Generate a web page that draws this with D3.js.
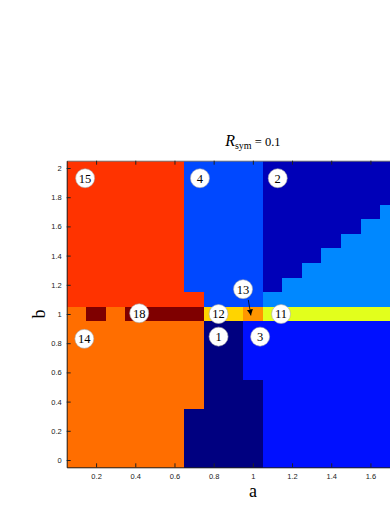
<!DOCTYPE html>
<html><head><meta charset="utf-8">
<script src="https://cdn.jsdelivr.net/npm/d3@7"></script>
<style>html,body{margin:0;padding:0;background:#fff;overflow:hidden}</style>
</head><body>
<svg id="chart" width="390" height="505"></svg>
<script>
// Cell centres
const aValues = [0.1,0.2,0.3,0.4,0.5,0.6,0.7,0.8,0.9,1.0,1.1,1.2,1.3,1.4,1.5,1.6,1.7,1.8,1.9];
const bValues = [2.0,1.9,1.8,1.7,1.6,1.5,1.4,1.3,1.2,1.1,1.0,0.9,0.8,0.7,0.6,0.5,0.4,0.3,0.2,0.1,0.0];
// Region code per cell, one string per b row (top to bottom), one char per a column
const regionRows = [
  "RRRRRRBBBBDDDDDDDDD",
  "RRRRRRBBBBDDDDDDDDL",
  "RRRRRRBBBBDDDDDDDLL",
  "RRRRRRBBBBDDDDDDLLL",
  "RRRRRRBBBBDDDDDLLLL",
  "RRRRRRBBBBDDDDLLLLL",
  "RRRRRRBBBBDDDLLLLLL",
  "RRRRRRBBBBDDLLLLLLL",
  "RRRRRRBBBBDLLLLLLLL",
  "RRRRRRRBBBLLLLLLLLL",
  "OKOKKKKGGPYYYYYYYYY",
  "OOOOOOONNUUUUUUUUUU",
  "OOOOOOONNUUUUUUUUUU",
  "OOOOOOONNUUUUUUUUUU",
  "OOOOOOONNUUUUUUUUUU",
  "OOOOOOONNNUUUUUUUUU",
  "OOOOOOONNNUUUUUUUUU",
  "OOOOOONNNNUUUUUUUUU",
  "OOOOOONNNNUUUUUUUUU",
  "OOOOOONNNNUUUUUUUUU",
  "OOOOOONNNNUUUUUUUUU"
];
const regionCodes  = ["R","O","K","G","P","Y","B","D","L","N","U"];
const regionColors = ["#ff3300","#ff6e00","#7f0000","#ffd400","#ff9600","#e2ff1c","#0048ff","#0000b8","#0088ff","#000080","#0010ff"];
// Region number labels (a, b, text)
const labelA    = [0.144, 0.73, 1.127, 0.95, 0.42, 0.825, 1.144, 0.825, 1.037, 0.14];
const labelB    = [1.93, 1.93, 1.93, 1.17, 1.005, 1.0, 1.0, 0.845, 0.845, 0.83];
const labelText = ["15","4","2","13","18","12","11","1","3","14"];
// Arrow from label 13 to its cell
const arrowFrom = [0.977, 1.096];
const arrowTo   = [0.99, 0.99];
const xTicks = [0.2,0.4,0.6,0.8,1.0,1.2,1.4,1.6];
const yTicks = [0,0.2,0.4,0.6,0.8,1.0,1.2,1.4,1.6,1.8,2.0];

const svg = d3.select("#chart");
const x = d3.scaleLinear().domain([0.05,1.95]).range([66.7,439]);
const y = d3.scaleLinear().domain([-0.05,2.05]).range([467.3,160.7]);
const color = d3.scaleOrdinal().domain(regionCodes).range(regionColors);

const cells = [];
regionRows.forEach((row,i)=>{
  row.split("").forEach((c,j)=>cells.push({a:aValues[j], b:bValues[i], c}));
});
svg.append("g").selectAll("rect").data(cells).join("rect")
  .attr("x", d=>x(d.a-0.05))
  .attr("y", d=>y(d.b+0.05))
  .attr("width", d=>x(d.a+0.05)-x(d.a-0.05)+0.3)
  .attr("height", d=>y(d.b-0.05)-y(d.b+0.05)+0.3)
  .attr("fill", d=>color(d.c))
  .attr("shape-rendering","crispEdges");

// Axes
const fmt = d=>d3.format("~g")(d);
const axStyle = g=>{
  g.selectAll(".domain").attr("stroke","#222");
  g.selectAll(".tick line").attr("stroke","#222");
  g.selectAll("text").attr("font-family","Liberation Sans, Arial, sans-serif").attr("font-size","7.5px").attr("fill","#222");
};
svg.append("g").attr("transform",`translate(0,${y(-0.05)})`)
  .call(d3.axisBottom(x).tickValues(xTicks).tickFormat(fmt).tickSizeInner(-4).tickSizeOuter(0).tickPadding(6))
  .call(axStyle);
svg.append("g").attr("transform",`translate(0,${y(2.05)})`)
  .call(d3.axisTop(x).tickValues(xTicks).tickFormat("").tickSizeInner(-4).tickSizeOuter(0))
  .call(axStyle)
  .call(g=>g.select(".domain").attr("stroke","#777"));
svg.append("g").attr("transform",`translate(${x(0.05)},0)`)
  .call(d3.axisLeft(y).tickValues(yTicks).tickFormat(fmt).tickSizeInner(-4).tickSizeOuter(0).tickPadding(5))
  .call(axStyle);

// Arrow
const defs = svg.append("defs");
defs.append("marker").attr("id","ah").attr("viewBox","0 0 10 10").attr("refX",10).attr("refY",5)
  .attr("markerWidth",6).attr("markerHeight",6).attr("orient","auto").attr("markerUnits","userSpaceOnUse")
  .append("path").attr("d","M0,0L10,5L0,10Z").attr("fill","#000");
svg.append("line")
  .attr("x1",x(arrowFrom[0])).attr("y1",y(arrowFrom[1]))
  .attr("x2",x(arrowTo[0])).attr("y2",y(arrowTo[1]))
  .attr("stroke","#000").attr("stroke-width",0.8).attr("marker-end","url(#ah)");

// Labels
const labels = labelText.map((t,i)=>({a:labelA[i], b:labelB[i], t}));
const lg = svg.append("g").selectAll("g").data(labels).join("g")
  .attr("transform", d=>`translate(${x(d.a)},${y(d.b)})`);
lg.append("circle").attr("r",9.5).attr("fill","#fff").attr("stroke","#aaa").attr("stroke-width",0.6);
lg.append("text").text(d=>d.t).attr("text-anchor","middle").attr("dy","0.35em")
  .attr("font-family","Liberation Serif, Times New Roman, serif").attr("font-size","12.5px").attr("fill","#000");

// Title
const title = svg.append("text").attr("x",(x(0.05)+x(1.95))/2).attr("y",146).attr("text-anchor","middle")
  .attr("font-family","Liberation Serif, Times New Roman, serif").attr("fill","#000");
title.append("tspan").text("R").attr("font-style","italic").attr("font-size","16px");
title.append("tspan").text("sym").attr("font-size","10px").attr("dy","3");
title.append("tspan").text(" = 0.1").attr("font-size","12.5px").attr("dy","-3");

// Axis labels
svg.append("text").text("a").attr("x",253).attr("y",497).attr("text-anchor","middle")
  .attr("font-family","Liberation Serif, Times New Roman, serif").attr("font-size","18px");
svg.append("text").text("b").attr("transform","translate(45,314) rotate(-90)").attr("text-anchor","middle")
  .attr("font-family","Liberation Serif, Times New Roman, serif").attr("font-size","18px");
</script>
</body></html>
